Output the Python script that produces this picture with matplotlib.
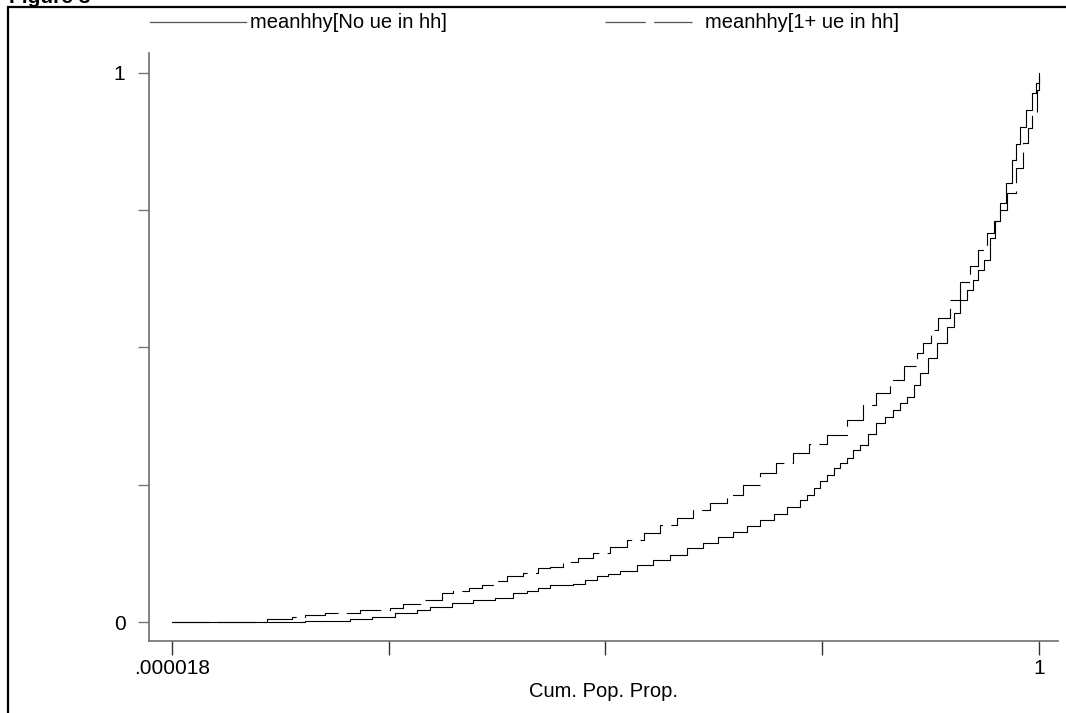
import matplotlib.pyplot as plt
from matplotlib.lines import Line2D
from matplotlib.patches import Rectangle

plt.rcParams['font.family'] = ['Liberation Sans', 'DejaVu Sans']
plt.rcParams['lines.scale_dashes'] = False

# Lorenz-кривые, значения
p_no_ue = [0.000018, 0.153, 0.205, 0.231, 0.257, 0.283, 0.298, 0.323, 0.347, 0.373,
           0.393, 0.409, 0.422, 0.436, 0.463, 0.476, 0.490, 0.503, 0.517, 0.536,
           0.555, 0.574, 0.594, 0.613, 0.630, 0.647, 0.663, 0.678, 0.694, 0.709,
           0.724, 0.732, 0.740, 0.747, 0.755, 0.763, 0.771, 0.778, 0.786, 0.794,
           0.803, 0.812, 0.822, 0.832, 0.840, 0.848, 0.856, 0.863, 0.872, 0.882,
           0.894, 0.902, 0.909, 0.917, 0.924, 0.930, 0.936, 0.943, 0.949, 0.955,
           0.962, 0.969, 0.974, 0.978, 0.985, 0.992, 0.996, 1.0]
L_no_ue = [0.0, 0.001, 0.005, 0.010, 0.016, 0.022, 0.028, 0.035, 0.040, 0.044,
           0.053, 0.056, 0.062, 0.067, 0.070, 0.077, 0.083, 0.087, 0.093, 0.104,
           0.113, 0.122, 0.134, 0.144, 0.154, 0.164, 0.175, 0.186, 0.197, 0.209,
           0.222, 0.231, 0.244, 0.256, 0.268, 0.280, 0.289, 0.298, 0.313, 0.322,
           0.342, 0.362, 0.374, 0.386, 0.398, 0.410, 0.432, 0.454, 0.480, 0.508,
           0.538, 0.562, 0.587, 0.605, 0.623, 0.641, 0.659, 0.700, 0.730, 0.763,
           0.800, 0.842, 0.870, 0.902, 0.933, 0.964, 0.982, 1.0]

p_ue = [0.000018, 0.110, 0.138, 0.153, 0.176, 0.217, 0.251, 0.266, 0.288, 0.311,
        0.324, 0.343, 0.357, 0.372, 0.386, 0.405, 0.422, 0.436, 0.451, 0.468,
        0.486, 0.505, 0.525, 0.544, 0.563, 0.582, 0.601, 0.620, 0.640, 0.659,
        0.678, 0.697, 0.716, 0.735, 0.755, 0.779, 0.797, 0.812, 0.828, 0.844,
        0.859, 0.866, 0.875, 0.884, 0.897, 0.909, 0.920, 0.930, 0.940, 0.948,
        0.955, 0.963, 0.973, 0.982, 0.987, 0.992, 0.998, 1.0]
L_ue = [0.0, 0.005, 0.010, 0.013, 0.017, 0.022, 0.026, 0.032, 0.040, 0.053,
        0.057, 0.062, 0.067, 0.075, 0.084, 0.089, 0.098, 0.101, 0.109, 0.117,
        0.126, 0.137, 0.149, 0.163, 0.177, 0.190, 0.204, 0.217, 0.231, 0.250,
        0.271, 0.289, 0.308, 0.324, 0.341, 0.368, 0.395, 0.418, 0.441, 0.466,
        0.490, 0.508, 0.531, 0.554, 0.587, 0.619, 0.649, 0.678, 0.709, 0.730,
        0.750, 0.781, 0.827, 0.872, 0.900, 0.927, 0.969, 1.0]

legend_labels = ['meanhhy[No ue in hh]', 'meanhhy[1+ ue in hh]']
x_ticks = [0, 0.25, 0.5, 0.75, 1]
x_tick_labels = ['.000018', '', '', '', '1']
y_ticks = [0, 0.25, 0.5, 0.75, 1]
y_tick_labels = ['0', '', '', '', '1']

W, H = 1066, 713
fig = plt.figure(figsize=(W / 100, H / 100), dpi=100)

# рамка вокруг рисунка (правый и нижний край за пределами картинки)
fig.add_artist(Rectangle((8 / W, -0.2), 1.5, 1.2 - 6.5 / H, transform=fig.transFigure,
                         fill=False, edgecolor='black', lw=1.6))
fig.text(9 / W, 1 - 3 / H, 'Figure 3', fontsize=15, fontweight='bold', va='baseline')

ax = fig.add_axes([149 / W, 1 - 641 / H, (1058 - 149) / W, (641 - 53) / H])
ax.plot(p_no_ue, L_no_ue, color='black', lw=0.8, drawstyle='steps-post')
ax.plot(p_ue, L_ue, color='black', lw=0.8, drawstyle='steps-post', dashes=(27, 6))

ax.set_xlim(-0.0265, 1.0219)
ax.set_ylim(-0.0346, 1.0364)
ax.set_xticks(x_ticks)
ax.set_xticklabels(x_tick_labels)
ax.set_yticks(y_ticks)
ax.set_yticklabels(y_tick_labels)
ax.tick_params(axis='x', length=10, width=1.0, color='#333333', pad=3, labelsize=15)
ax.tick_params(axis='y', length=8, width=1.0, color='#777777', pad=9, labelsize=15)
for s in ['top', 'right']:
    ax.spines[s].set_visible(False)
for s in ['left', 'bottom']:
    ax.spines[s].set_color('#6e6e6e')
    ax.spines[s].set_linewidth(1.2)
ax.set_xlabel('Cum. Pop. Prop.', fontsize=14.5, labelpad=2.5)

# легенда сверху вручную
y_leg = 1 - 22 / H
fig.add_artist(Line2D([150 / W, 246 / W], [y_leg, y_leg], transform=fig.transFigure,
                      color='#555555', lw=0.9))
fig.text(250 / W, y_leg, legend_labels[0], fontsize=14.5, va='center')
fig.add_artist(Line2D([605 / W, 692 / W], [y_leg, y_leg], transform=fig.transFigure,
                      color='#555555', lw=0.9, dashes=(29, 6)))
fig.text(705 / W, y_leg, legend_labels[1], fontsize=14.5, va='center')

fig.savefig('out.png', dpi=100)
